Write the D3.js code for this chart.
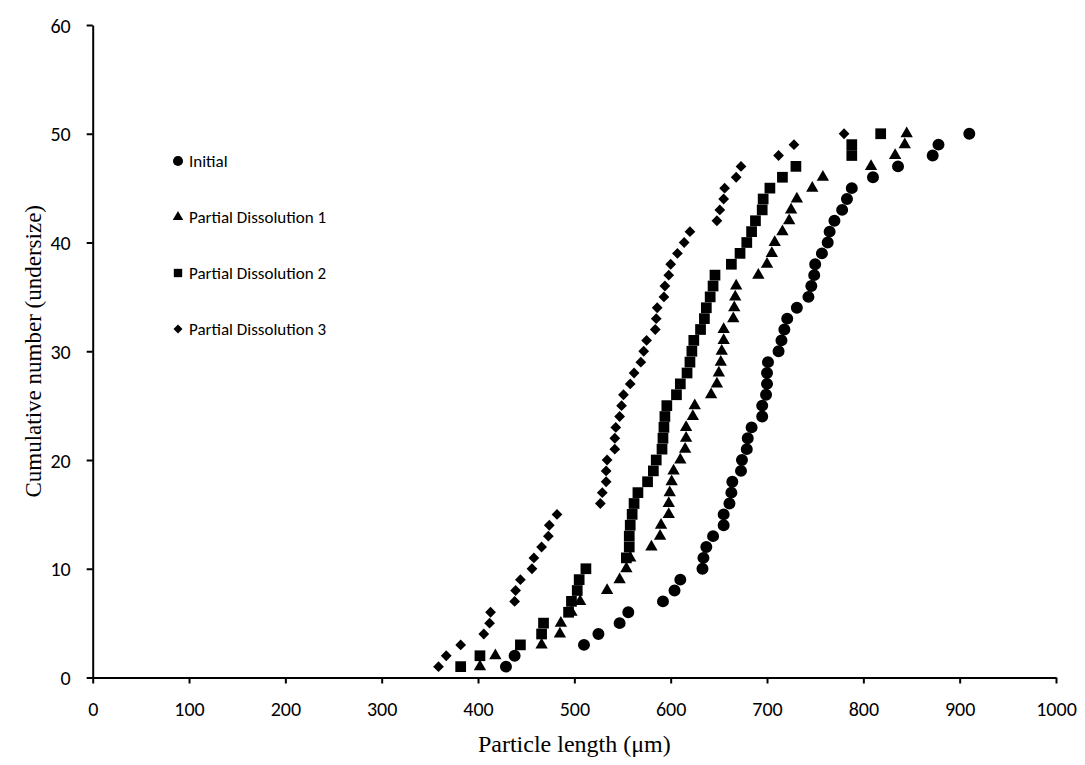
<!DOCTYPE html>
<html>
<head>
<meta charset="utf-8">
<script src="https://cdn.jsdelivr.net/npm/d3@7"></script>
<style>
  body { margin: 0; background: #fff; }
  .tick text { font-family: Carlito, Calibri, Lato, sans-serif; font-size: 20px; fill: #000; }
  .legend text { font-family: Carlito, Calibri, Lato, sans-serif; font-size: 17px; fill: #000; }
  .title { font-family: "Liberation Serif", "Times New Roman", serif; font-size: 23px; fill: #000; }
</style>
</head>
<body>
<div id="chart"></div>
<script>
// cumulative number 1..50 for every series
const counts = d3.range(1, 51);

const initial = [429, 438, 510, 525, 547, 556, 592, 604, 610, 633,
  634, 637, 644, 655, 655, 661, 663, 664, 673, 674,
  679, 680, 684, 695, 695, 699, 700, 700, 701, 712,
  715, 718, 721, 731, 743, 746, 749, 750, 757, 763,
  765, 770, 778, 783, 788, 810, 836, 872, 878, 910];

const partial1 = [402, 418, 466, 485, 486, 497, 506, 534, 547, 554,
  558, 580, 589, 590, 598, 598, 599, 601, 603, 610,
  615, 616, 616, 623, 625, 642, 648, 650, 652, 653,
  655, 655, 665, 666, 667, 668, 691, 700, 705, 708,
  716, 723, 725, 731, 747, 758, 808, 833, 843, 845];

const partial2 = [382, 402, 444, 466, 468, 494, 497, 503, 505, 512,
  554, 557, 557, 558, 560, 562, 566, 576, 582, 585,
  591, 592, 593, 594, 596, 606, 610, 617, 620, 622,
  624, 631, 635, 637, 641, 644, 646, 663, 672, 679,
  684, 688, 695, 696, 703, 716, 730, 788, 788, 818];

const partial3 = [359, 367, 382, 406, 412, 413, 438, 439, 444, 456,
  458, 466, 473, 474, 482, 527, 529, 533, 533, 534,
  542, 542, 543, 547, 549, 551, 558, 562, 569, 572,
  575, 584, 585, 586, 593, 594, 598, 600, 607, 614,
  620, 648, 651, 655, 656, 668, 673, 712, 728, 780];

const seriesNames = ["Initial", "Partial Dissolution 1", "Partial Dissolution 2", "Partial Dissolution 3"];
const xTicks = d3.range(0, 1001, 100);
const yTicks = d3.range(0, 61, 10);

const width = 1085, height = 765;
const svg = d3.select("#chart").append("svg").attr("width", width).attr("height", height);

const x = d3.scaleLinear().domain([0, 1000]).range([92.7, 1056]);
const y = d3.scaleLinear().domain([0, 60]).range([677.5, 25]);

// marker shapes, one per series
const shapes = [
  {type: d3.symbolCircle, size: 113, rot: 0},
  {type: d3.symbolTriangle, size: 66, rot: 0},
  {type: d3.symbolSquare, size: 115, rot: 0},
  {type: d3.symbolSquare, size: 58, rot: 45}
];
const legendShapes = [
  {type: d3.symbolCircle, size: 80, rot: 0},
  {type: d3.symbolTriangle, size: 48, rot: 0},
  {type: d3.symbolSquare, size: 70, rot: 0},
  {type: d3.symbolSquare, size: 40, rot: 45}
];

const xAxis = svg.append("g").attr("transform", "translate(0," + y(0) + ")")
  .call(d3.axisBottom(x).tickValues(xTicks).tickFormat(d3.format("d")).tickSize(6).tickSizeOuter(0));
xAxis.selectAll("text").attr("y", 38).attr("dy", 0);

const yAxis = svg.append("g").attr("transform", "translate(" + x(0) + ",0)")
  .call(d3.axisLeft(y).tickValues(yTicks).tickSize(6).tickSizeOuter(0));
yAxis.selectAll("text").attr("x", -22).attr("dy", "0.35em");

svg.selectAll(".domain").attr("stroke", "#000").attr("stroke-width", 2);
svg.selectAll(".tick line").attr("stroke", "#000").attr("stroke-width", 2);

const allSeries = [initial, partial1, partial2, partial3];
allSeries.forEach((vals, i) => {
  const s = shapes[i];
  svg.append("g").selectAll("path").data(vals).enter().append("path")
    .attr("d", d3.symbol().type(s.type).size(s.size))
    .attr("transform", (d, j) => "translate(" + x(d) + "," + y(counts[j]) + ") rotate(" + s.rot + ")")
    .attr("fill", "#000");
});

// legend
const legend = svg.append("g").attr("class", "legend");
seriesNames.forEach((name, i) => {
  const ly = 161 + i * 56;
  const s = legendShapes[i];
  legend.append("path")
    .attr("d", d3.symbol().type(s.type).size(s.size))
    .attr("transform", "translate(178," + ly + ") rotate(" + s.rot + ")")
    .attr("fill", "#000");
  legend.append("text").attr("x", 189).attr("y", ly).attr("dy", "0.36em").text(name);
});

svg.append("text").attr("class", "title")
  .attr("transform", "translate(33," + (y(30)) + ") rotate(-90)")
  .attr("text-anchor", "middle").attr("dy", "0.35em")
  .text("Cumulative number (undersize)");

svg.append("text").attr("class", "title")
  .attr("x", (x(0) + x(1000)) / 2).attr("y", 752)
  .attr("text-anchor", "middle")
  .style("font-size", "24px")
  .text("Particle length (μm)");
</script>
</body>
</html>
